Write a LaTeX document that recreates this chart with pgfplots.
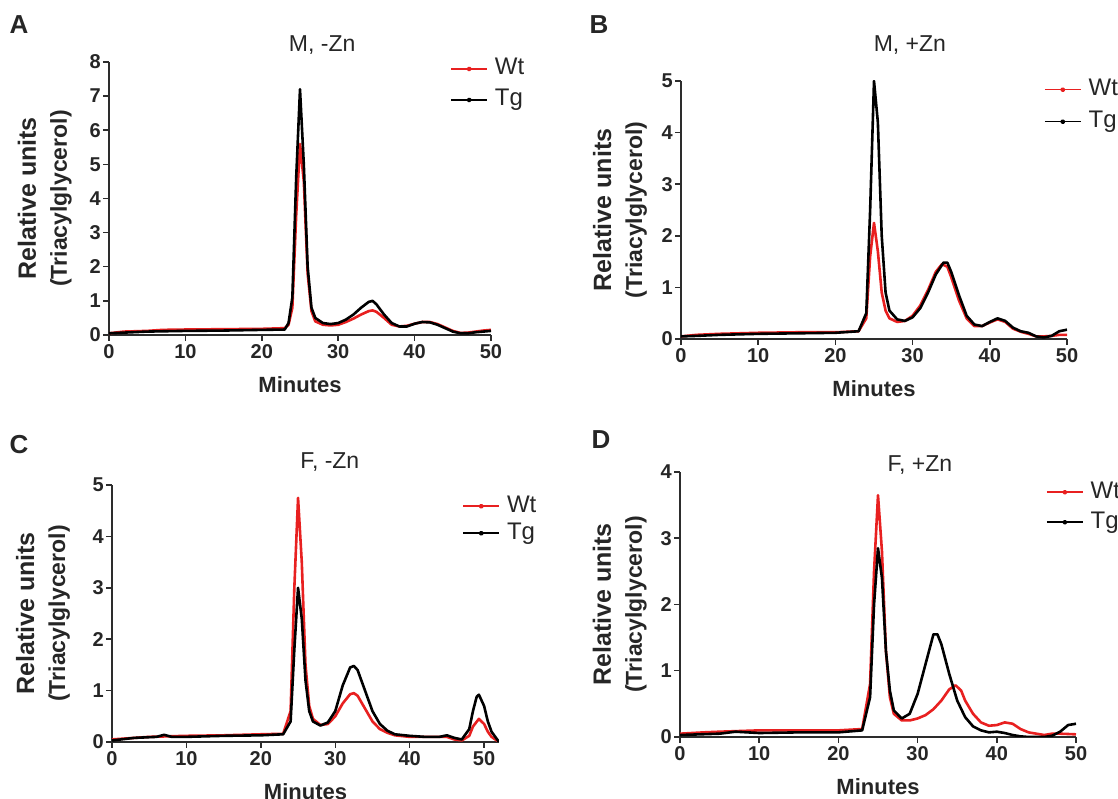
\documentclass[border=0pt]{standalone}
\usepackage{fontspec}
\setmainfont{Liberation Sans}
\usepackage{pgfplots}
\pgfplotsset{compat=1.18}
\definecolor{wtred}{RGB}{232,32,32}
\definecolor{axgray}{RGB}{45,45,45}

\pgfplotsset{
  panel/.style={
    scale only axis,
    axis x line*=bottom, axis y line*=left,
    axis line style={axgray, line width=1.5pt},
    tick style={axgray, line width=1.5pt},
    tick align=outside, major tick length=6pt,
    /pgf/number format/assume math mode=true,
    ticklabel style={font=\fontsize{20}{21}\selectfont\bfseries, text=black!85},
    yticklabel style={inner sep=2pt},
    xticklabel style={inner sep=3pt},
    xlabel={Minutes},
    ylabel={{\fontsize{25}{31}\selectfont Relative units}\\{\fontsize{23}{31}\selectfont (Triacylglycerol)}},
    every axis x label/.style={at={(axis description cs:0.5,0)}, anchor=center, yshift=-50pt,
      font=\fontsize{22}{23}\selectfont\bfseries, text=black!85},
    every axis y label/.style={rotate=90, anchor=center, align=center,
      font=\fontsize{23}{31}\selectfont\bfseries, text=black!85},
    every axis title/.style={anchor=center, font=\fontsize{23}{25}\selectfont, text=black!85},
    ymin=0, xmin=0,
    legend cell align=left,
    legend image code/.code={\draw[#1, line width=1.6pt] (0pt,0pt) -- (36pt,0pt); \fill[#1] (18pt,0pt) circle (1.2pt);},
    wt/.style={wtred, line width=2.6pt, line join=round},
    tg/.style={black, line width=2.6pt, line join=round},
  },
  leg/.style n args={3}{legend style={draw=none, fill=none, at={(axis description cs:#1,#2)},
      anchor=north west, inner sep=0pt, row sep=#3,
      font=\fontsize{24}{26}\selectfont,
      nodes={inner sep=0pt, text height=16pt, text depth=4pt, text=black!85},
      /tikz/every odd column/.append style={column sep=7pt}}},
}

\begin{document}
\begin{tikzpicture}
\useasboundingbox (0pt,0pt) rectangle (1118pt,799pt);

% panel letters
\node[font=\fontsize{26}{27}\selectfont\bfseries, anchor=center, text=black!85] at (19pt,774pt) {A};
\node[font=\fontsize{26}{27}\selectfont\bfseries, anchor=center, text=black!85] at (599pt,774pt) {B};
\node[font=\fontsize{26}{27}\selectfont\bfseries, anchor=center, text=black!85] at (19pt,354pt) {C};
\node[font=\fontsize{26}{27}\selectfont\bfseries, anchor=center, text=black!85] at (601pt,359pt) {D};

% ---------------- A ----------------
\begin{axis}[panel, at={(109pt,464pt)}, anchor=south west, width=382pt, height=273pt,
  xmax=50, ymax=8, xtick={0,10,...,50}, ytick={0,1,...,8},
  title={M, -Zn}, title style={at={(axis description cs:0.558,1)}, yshift=17pt},
  every axis y label/.append style={at={(axis description cs:-0.168,0.5)}},
  leg={0.893}{1.012}{11pt}]
\addplot[wt] coordinates {(0,0.05) (2,0.1) (5,0.12) (7,0.15) (10,0.16) (15,0.17) (20,0.18) (23,0.2) (23.5,0.3) (24,0.8) (24.5,3.5) (25,5.6) (25.5,4.5) (26,1.8) (26.5,0.7) (27,0.4) (28,0.3) (29,0.28) (30,0.3) (31,0.38) (32,0.48) (33,0.6) (34,0.7) (34.5,0.72) (35,0.68) (36,0.5) (37,0.3) (38,0.25) (39,0.27) (40,0.33) (41,0.38) (42,0.38) (43,0.32) (44,0.22) (45,0.12) (46,0.06) (47,0.07) (48,0.1) (49,0.13) (50,0.15)};
\addlegendentry{Wt}
\addplot[tg] coordinates {(0,0.05) (2,0.07) (5,0.1) (10,0.12) (15,0.13) (20,0.15) (23,0.16) (23.5,0.35) (24,1.1) (24.5,4.6) (25,7.2) (25.5,5.0) (26,2.0) (26.5,0.8) (27,0.5) (28,0.35) (29,0.32) (30,0.35) (31,0.45) (32,0.6) (33,0.8) (34,0.97) (34.5,1.0) (35,0.9) (36,0.6) (37,0.35) (38,0.25) (39,0.25) (40,0.33) (41,0.38) (42,0.37) (43,0.3) (44,0.2) (45,0.1) (46,0.05) (47,0.05) (48,0.08) (49,0.1) (50,0.12)};
\addlegendentry{Tg}
\end{axis}

% ---------------- B ----------------
\begin{axis}[panel, at={(681pt,460pt)}, anchor=south west, width=386pt, height=258pt,
  xmax=50, ymax=5, xtick={0,10,...,50}, ytick={0,1,...,5},
  title={M, +Zn}, title style={at={(axis description cs:0.593,1)}, yshift=36pt},
  every axis y label/.append style={at={(axis description cs:-0.158,0.5)}},
  leg={0.940}{1.006}{12pt}]
\addplot[wt] coordinates {(0,0.05) (2,0.08) (5,0.1) (10,0.12) (15,0.13) (20,0.13) (23,0.15) (24,0.4) (24.5,1.6) (25,2.25) (25.5,1.7) (26,0.9) (26.5,0.55) (27,0.4) (28,0.33) (29,0.35) (30,0.45) (31,0.65) (32,0.95) (33,1.3) (33.8,1.45) (34.5,1.4) (35,1.2) (36,0.75) (37,0.4) (38,0.25) (39,0.25) (40,0.32) (41,0.38) (42,0.33) (43,0.2) (44,0.14) (45,0.1) (46,0.05) (47,0.05) (48,0.06) (49,0.08) (50,0.08)};
\addlegendentry{Wt}
\addplot[tg] coordinates {(0,0.05) (2,0.06) (5,0.08) (10,0.1) (15,0.11) (20,0.12) (23,0.15) (24,0.5) (24.5,2.5) (25,5.0) (25.5,4.2) (26,2.0) (26.5,0.9) (27,0.55) (28,0.38) (29,0.35) (30,0.42) (31,0.6) (32,0.9) (33,1.25) (34,1.48) (34.5,1.48) (35,1.3) (36,0.85) (37,0.45) (38,0.28) (39,0.25) (40,0.33) (41,0.4) (42,0.35) (43,0.22) (44,0.15) (45,0.12) (46,0.05) (47,0.03) (48,0.06) (49,0.15) (50,0.18)};
\addlegendentry{Tg}
\end{axis}

% ---------------- C ----------------
\begin{axis}[panel, at={(112pt,57pt)}, anchor=south west, width=387pt, height=257pt,
  xmax=52, ymax=5, xtick={0,10,...,50}, ytick={0,1,...,5},
  title={F, -Zn}, title style={at={(axis description cs:0.563,1)}, yshift=23pt},
  every axis y label/.append style={at={(axis description cs:-0.178,0.5)}},
  leg={0.905}{0.957}{7pt}]
\addplot[wt] coordinates {(0,0.05) (3,0.08) (5,0.1) (10,0.12) (15,0.13) (20,0.15) (23,0.16) (24,0.6) (24.5,3.0) (25,4.75) (25.5,3.5) (26,1.5) (26.5,0.7) (27,0.45) (28,0.33) (29,0.35) (30,0.5) (31,0.75) (32,0.93) (32.5,0.95) (33,0.9) (34,0.65) (35,0.4) (36,0.25) (37,0.18) (38,0.13) (40,0.1) (44,0.1) (45,0.1) (46,0.05) (47,0.03) (48,0.12) (48.5,0.3) (49.3,0.45) (50,0.35) (50.5,0.2) (51,0.1) (52,0.0)};
\addlegendentry{Wt}
\addplot[tg] coordinates {(0,0.03) (3,0.08) (6,0.1) (7,0.14) (8,0.1) (10,0.1) (15,0.12) (20,0.13) (23,0.15) (24,0.4) (24.5,1.8) (25,3.0) (25.5,2.4) (26,1.2) (26.5,0.6) (27,0.4) (28,0.32) (29,0.38) (30,0.6) (31,1.1) (32,1.45) (32.5,1.48) (33,1.4) (34,1.0) (35,0.6) (36,0.35) (37,0.22) (38,0.15) (40,0.12) (42,0.1) (44,0.1) (45,0.13) (46,0.08) (47,0.05) (48,0.25) (48.5,0.6) (49,0.88) (49.3,0.92) (50,0.7) (50.5,0.4) (51,0.2) (52,0.0)};
\addlegendentry{Tg}
\end{axis}

% ---------------- D ----------------
\begin{axis}[panel, at={(680pt,62pt)}, anchor=south west, width=396pt, height=265pt,
  xmax=50, ymax=4, xtick={0,10,...,50}, ytick={0,1,...,4},
  title={F, +Zn}, title style={at={(axis description cs:0.606,1)}, yshift=7pt},
  every axis y label/.append style={at={(axis description cs:-0.152,0.5)}},
  leg={0.924}{0.962}{10pt}]
\addplot[wt] coordinates {(0,0.05) (3,0.07) (5,0.08) (10,0.1) (15,0.1) (20,0.1) (23,0.12) (24,0.8) (24.5,2.5) (25,3.65) (25.5,2.8) (26,1.3) (26.5,0.6) (27,0.35) (28,0.25) (29,0.25) (30,0.28) (31,0.33) (32,0.42) (33,0.55) (34,0.72) (34.8,0.78) (35.5,0.7) (36,0.55) (37,0.35) (38,0.22) (39,0.17) (40,0.18) (41,0.22) (42,0.2) (43,0.12) (44,0.07) (45,0.05) (46,0.03) (47,0.05) (48,0.05) (50,0.04)};
\addlegendentry{Wt}
\addplot[tg] coordinates {(0,0.03) (5,0.05) (7,0.08) (10,0.06) (15,0.07) (20,0.07) (23,0.1) (24,0.6) (24.5,2.0) (25,2.85) (25.5,2.4) (26,1.3) (26.5,0.7) (27,0.4) (28,0.28) (29,0.35) (30,0.65) (31,1.1) (32,1.55) (32.5,1.55) (33,1.4) (34,0.95) (35,0.55) (36,0.3) (37,0.16) (38,0.1) (39,0.07) (40,0.08) (41,0.06) (42,0.03) (43,0.01) (44,0.0) (46,0.0) (47,0.02) (48,0.08) (49,0.18) (50,0.2)};
\addlegendentry{Tg}
\end{axis}
\end{tikzpicture}
\end{document}
